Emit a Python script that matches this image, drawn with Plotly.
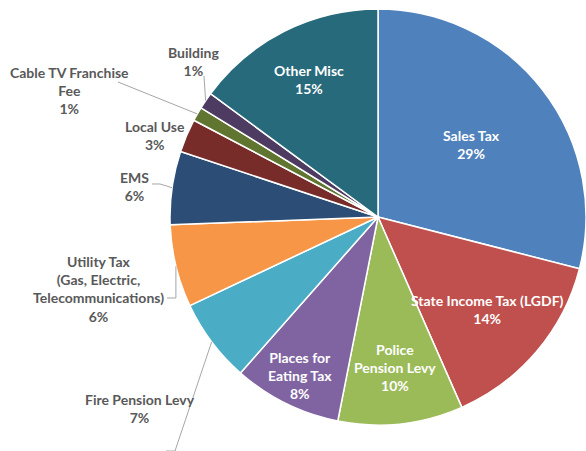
import math
import plotly.graph_objects as go

# ---- data ----
categories = ["Sales Tax", "State Income Tax (LGDF)", "Police Pension Levy",
              "Places for Eating Tax", "Fire Pension Levy", "Utility Tax",
              "EMS", "Local Use", "Cable TV Franchise Fee", "Building", "Other Misc"]
values = [29.0, 14.4, 9.7, 8.4, 6.5, 6.4, 5.7, 2.6, 1.1, 1.3, 14.9]
pct_labels = ["29%", "14%", "10%", "8%", "7%", "6%", "6%", "3%", "1%", "1%", "15%"]
label_lines = ["Sales Tax", "State Income Tax (LGDF)", "Police<br>Pension Levy",
               "Places for<br>Eating Tax", "Fire Pension Levy",
               "Utility Tax<br>(Gas, Electric,<br>Telecommunications)",
               "EMS", "Local Use", "Cable TV Franchise<br>Fee", "Building", "Other Misc"]
colors = ["#4F81BD", "#C0504D", "#9BBB59", "#8064A2", "#4BACC6", "#F79646",
          "#2C4D75", "#772C2A", "#5F7530", "#4D3B62", "#276A7C"]

# ---- layout geometry (pixels) ----
W, H = 586, 451
CX, CY, R = 378, 217, 208
FS = 14
# inside label radial fraction (None => outside label)
inside_frac = [0.57, 0.69, 0.73, 0.85, None, None, None, None, None, None, 0.74]
# outside label centers (pixels)
outside_pos = {4: (140, 408), 5: (99, 289), 6: (134, 187), 7: (155, 136),
               8: (69, 90), 9: (193, 61)}

def px2paper(x, y):
    return x / W, 1 - y / H

def bold(t):
    return "<b>" + t.replace("<br>", "</b><br><b>") + "</b>"

fig = go.Figure(go.Pie(
    labels=categories, values=values, sort=False, direction="clockwise",
    rotation=0, textinfo="none", hoverinfo="label+percent",
    marker=dict(colors=colors, line=dict(color="white", width=1.5)),
    domain=dict(x=[(CX - R) / W, 1.0], y=[(H - CY - R) / H, (H - CY + R) / H]),
    showlegend=False,
))

total = sum(values)
cum = 0.0
annotations = []
shapes = []
for i, v in enumerate(values):
    mid = (cum + v / 2) / total * 2 * math.pi
    cum += v
    dx, dy = math.sin(mid), -math.cos(mid)
    text = bold(f"{label_lines[i]}<br>{pct_labels[i]}")
    if inside_frac[i] is not None:
        x, y = CX + dx * R * inside_frac[i], CY + dy * R * inside_frac[i]
        px, py = px2paper(x, y)
        annotations.append(dict(x=px, y=py, xref="paper", yref="paper", text=text,
                                showarrow=False, xanchor="center", yanchor="middle",
                                font=dict(color="white", size=FS, family="Lato"),
                                align="center"))
    else:
        lx, ly = outside_pos[i]
        px, py = px2paper(lx, ly)
        annotations.append(dict(x=px, y=py, xref="paper", yref="paper", text=text,
                                showarrow=False, xanchor="center", yanchor="middle",
                                font=dict(color="#595959", size=FS, family="Lato"),
                                align="center"))
        ex, ey = CX + dx * R, CY + dy * R
        pts = None
        if i == 4:
            pts = [(ex, ey), (175, 451), (166, 451)]
        elif i == 5:
            pts = [(ex, ey), (ex, 298), (167, 298)]
        elif i == 6:
            pts = [(ex, ey), (160, 184), (152, 184)]
        elif i == 8:
            pts = [(ex, ey), (118, 82)]
        elif i == 9:
            pts = [(ex, ey), (204, 76)]
        if pts:
            path = "M " + " L ".join(f"{a / W:.5f},{1 - b / H:.5f}" for a, b in pts)
            shapes.append(dict(type="path", path=path, xref="paper", yref="paper",
                               line=dict(color="#A6A6A6", width=1)))

fig.update_layout(
    width=W, height=H, margin=dict(l=0, r=0, t=0, b=0),
    paper_bgcolor="white", plot_bgcolor="white",
    annotations=annotations, shapes=shapes,
    font=dict(family="Lato"),
)

fig.write_html("out.html")
